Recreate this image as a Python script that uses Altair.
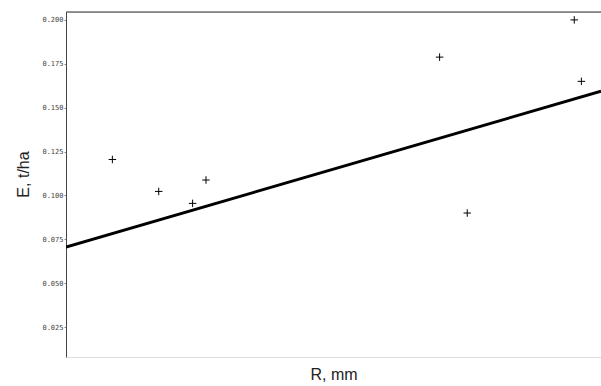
import altair as alt
import pandas as pd

# Observed points
R_mm = [352, 404, 442, 457, 719, 750, 870, 878]
E_tha = [0.1205, 0.1023, 0.0955, 0.1088, 0.1788, 0.0900, 0.2000, 0.1650]

# Fitted trend line (end points)
R_fit = [300, 900]
E_fit = [0.0706, 0.1594]

y_ticks = [0.025, 0.050, 0.075, 0.100, 0.125, 0.150, 0.175, 0.200]

pts = pd.DataFrame({"R": R_mm, "E": E_tha})
fit = pd.DataFrame({"R": R_fit, "E": E_fit})

W, H = 535, 345

xscale = alt.Scale(domain=[300, 900], nice=False, zero=False)
yscale = alt.Scale(domain=[0.008, 0.2045], nice=False, zero=False)

xax = alt.Axis(title="R, mm", labels=False, ticks=False, domain=False, grid=False,
               titleFont="Liberation Sans", titleFontSize=16, titleFontWeight="normal",
               titleColor="#222", titleY=9)
yax = alt.Axis(title="E, t/ha", values=y_ticks, format=".3f", grid=False,
               labelFont="DejaVu Sans Mono", labelFontSize=7, labelColor="#444",
               tickSize=2, tickColor="#888", domainColor="#444", labelPadding=1,
               titleFont="Liberation Sans", titleFontSize=16, titleFontWeight="normal",
               titleColor="#222", titleX=-35, titleY=162)

cross = "M-1,0H1M0,-1V1"

points = alt.Chart(pts).mark_point(shape=cross, size=56, filled=False, color="black",
                                   strokeWidth=1, opacity=1).encode(
    x=alt.X("R:Q", scale=xscale, axis=xax),
    y=alt.Y("E:Q", scale=yscale, axis=yax),
)

line = alt.Chart(fit).mark_line(color="black", strokeWidth=3, clip=True).encode(
    x=alt.X("R:Q", scale=xscale),
    y=alt.Y("E:Q", scale=yscale),
)

top = alt.Chart(pd.DataFrame({"a": [0]})).mark_rule(color="#333", strokeWidth=1.2).encode(
    x=alt.value(0), x2=alt.value(W), y=alt.value(0)
)

chart = alt.layer(line, points, top).properties(
    width=W, height=H,
    autosize=alt.AutoSizeParams(type="none"),
    padding={"left": 66, "top": 12, "right": 0, "bottom": 29},
).configure_view(stroke=None).configure(background="white")

chart.save("out.html", embed_options={"renderer": "svg", "actions": False})
